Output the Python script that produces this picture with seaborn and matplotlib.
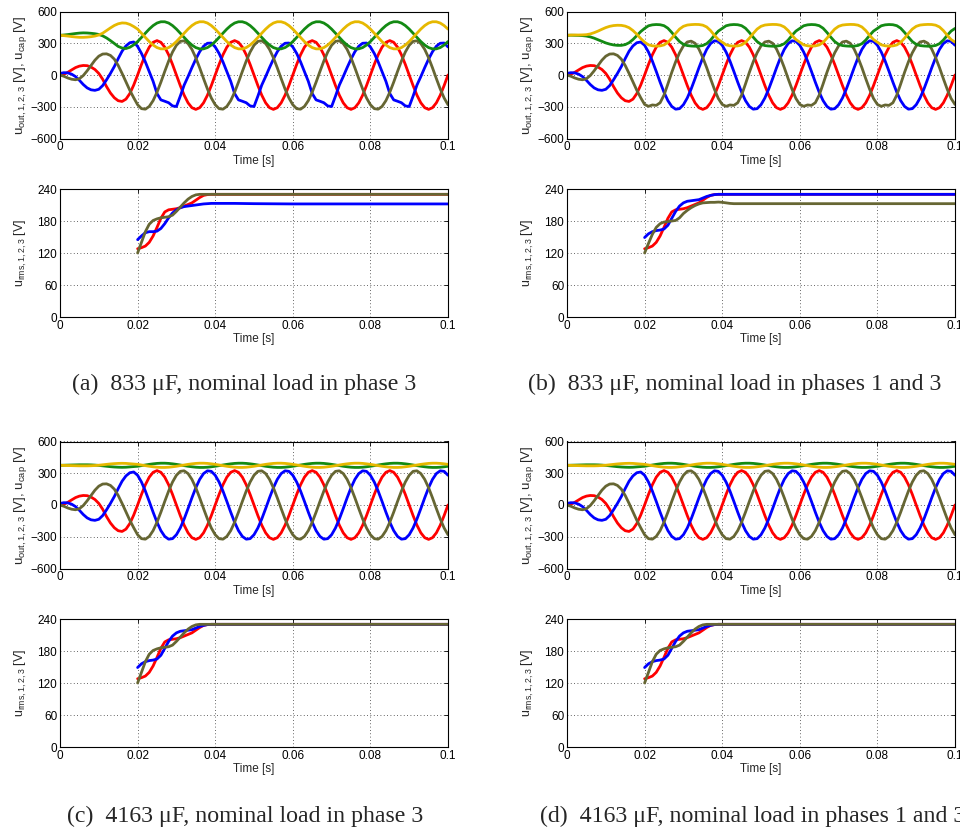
import matplotlib
matplotlib.use("Agg")
import numpy as np
import seaborn as sns
import matplotlib.pyplot as plt

# ---------------- data ----------------
time_ms = np.arange(0, 101)            # output voltages sampled every 1 ms
rms_time_ms = list(range(20, 46)) + [50, 60, 70, 80, 90, 100]

red_out = [
    0, 8, 25, 48, 70, 84, 90, 88, 75, 52, 15, -40, -110, -170, -215, -243, -250, -228, -175, -95,
    0, 100, 191, 263, 309, 325, 309, 263, 191, 100, 0, -100, -191, -263, -309, -325, -309, -263, -191, -100,
    0, 100, 191, 263, 309, 325, 309, 263, 191, 100, 0, -100, -191, -263, -309, -325, -309, -263, -191, -100,
    0, 100, 191, 263, 309, 325, 309, 263, 191, 100, 0, -100, -191, -263, -309, -325, -309, -263, -191, -100,
    0, 100, 191, 263, 309, 325, 309, 263, 191, 100, 0, -100, -191, -263, -309, -325, -309, -263, -191, -100,
    0]

blue_out = [
    15, 22, 20, 8, -15, -50, -90, -122, -140, -145, -135, -100, -45, 15, 80, 155, 225, 275, 305, 312,
    281, 217, 132, 34, -68, -163, -242, -297, -323, -318, -281, -217, -132, -34, 68, 163, 242, 297, 323, 318,
    281, 217, 132, 34, -68, -163, -242, -297, -323, -318, -281, -217, -132, -34, 68, 163, 242, 297, 323, 318,
    281, 217, 132, 34, -68, -163, -242, -297, -323, -318, -281, -217, -132, -34, 68, 163, 242, 297, 323, 318,
    281, 217, 132, 34, -68, -163, -242, -297, -323, -318, -281, -217, -132, -34, 68, 163, 242, 297, 323, 318,
    281]

blue_out_a = [
    15, 22, 20, 8, -15, -50, -90, -122, -140, -145, -135, -100, -45, 15, 80, 155, 225, 275, 305, 312,
    270, 204, 124, 32, -60, -175, -235, -248, -262, -292, -298, -200, -95, -15, 70, 150, 220, 272, 300, 302,
    265, 204, 124, 32, -60, -175, -235, -248, -262, -292, -298, -200, -95, -15, 70, 150, 220, 272, 300, 302,
    265, 204, 124, 32, -60, -175, -235, -248, -262, -292, -298, -200, -95, -15, 70, 150, 220, 272, 300, 302,
    265, 204, 124, 32, -60, -175, -235, -248, -262, -292, -298, -200, -95, -15, 70, 150, 220, 272, 300, 302,
    265]

olive_out = [
    0, -12, -28, -40, -45, -35, -5, 40, 90, 140, 178, 198, 200, 185, 150, 90, 15, -65, -145, -215,
    -281, -318, -323, -297, -242, -163, -68, 34, 132, 217, 281, 318, 323, 297, 242, 163, 68, -34, -132, -217,
    -281, -318, -323, -297, -242, -163, -68, 34, 132, 217, 281, 318, 323, 297, 242, 163, 68, -34, -132, -217,
    -281, -318, -323, -297, -242, -163, -68, 34, 132, 217, 281, 318, 323, 297, 242, 163, 68, -34, -132, -217,
    -281, -318, -323, -297, -242, -163, -68, 34, 132, 217, 281, 318, 323, 297, 242, 163, 68, -34, -132, -217,
    -281]

olive_out_b = [
    0, -12, -28, -40, -45, -35, -5, 40, 90, 140, 178, 198, 200, 185, 150, 90, 15, -65, -145, -215,
    -278, -296, -283, -287, -262, -190, -85, 25, 125, 210, 275, 312, 320, 300, 245, 165, 70, -35, -135, -222,
    -278, -296, -283, -287, -262, -190, -85, 25, 125, 210, 275, 312, 320, 300, 245, 165, 70, -35, -135, -222,
    -278, -296, -283, -287, -262, -190, -85, 25, 125, 210, 275, 312, 320, 300, 245, 165, 70, -35, -135, -222,
    -278, -296, -283, -287, -262, -190, -85, 25, 125, 210, 275, 312, 320, 300, 245, 165, 70, -35, -135, -222,
    -278]

green_cap_a = [
    375, 378, 382, 387, 392, 396, 398, 397, 394, 390, 383, 370, 350, 325, 298, 270, 255, 250, 262, 285,
    316, 355, 395, 434, 467, 491, 503, 503, 491, 467, 434, 395, 355, 316, 283, 259, 247, 247, 259, 283,
    316, 355, 395, 434, 467, 491, 503, 503, 491, 467, 434, 395, 355, 316, 283, 259, 247, 247, 259, 283,
    316, 355, 395, 434, 467, 491, 503, 503, 491, 467, 434, 395, 355, 316, 283, 259, 247, 247, 259, 283,
    316, 355, 395, 434, 467, 491, 503, 503, 491, 467, 434, 395, 355, 316, 283, 259, 247, 247, 259, 283,
    316]

yellow_cap_a = [
    375, 372, 368, 363, 359, 356, 356, 358, 362, 368, 378, 395, 420, 445, 468, 484, 492, 490, 478, 458,
    434, 395, 355, 316, 283, 259, 247, 247, 259, 283, 316, 355, 395, 434, 467, 491, 503, 503, 491, 467,
    434, 395, 355, 316, 283, 259, 247, 247, 259, 283, 316, 355, 395, 434, 467, 491, 503, 503, 491, 467,
    434, 395, 355, 316, 283, 259, 247, 247, 259, 283, 316, 355, 395, 434, 467, 491, 503, 503, 491, 467,
    434, 395, 355, 316, 283, 259, 247, 247, 259, 283, 316, 355, 395, 434, 467, 491, 503, 503, 491, 467,
    434]

green_cap_b = [
    375, 376, 375, 374, 372, 368, 360, 348, 333, 318, 303, 292, 284, 280, 280, 287, 305, 335, 372, 410,
    440, 465, 474, 477, 475, 466, 442, 402, 357, 316, 290, 278, 274, 272, 273, 279, 296, 330, 375, 415,
    440, 465, 474, 477, 475, 466, 442, 402, 357, 316, 290, 278, 274, 272, 273, 279, 296, 330, 375, 415,
    440, 465, 474, 477, 475, 466, 442, 402, 357, 316, 290, 278, 274, 272, 273, 279, 296, 330, 375, 415,
    440, 465, 474, 477, 475, 466, 442, 402, 357, 316, 290, 278, 274, 272, 273, 279, 296, 330, 375, 415,
    440]

yellow_cap_b = [
    375, 377, 378, 378, 379, 381, 388, 400, 415, 432, 448, 460, 467, 470, 469, 462, 447, 420, 385, 345,
    310, 285, 276, 273, 275, 284, 308, 348, 393, 434, 460, 472, 476, 478, 477, 471, 454, 420, 375, 335,
    310, 285, 276, 273, 275, 284, 308, 348, 393, 434, 460, 472, 476, 478, 477, 471, 454, 420, 375, 335,
    310, 285, 276, 273, 275, 284, 308, 348, 393, 434, 460, 472, 476, 478, 477, 471, 454, 420, 375, 335,
    310, 285, 276, 273, 275, 284, 308, 348, 393, 434, 460, 472, 476, 478, 477, 471, 454, 420, 375, 335,
    310]

green_cap_cd = [
    375, 376, 377, 378, 379, 380, 380, 380, 379, 377, 374, 370, 366, 362, 359, 357, 356, 357, 360, 363,
    366, 372, 378, 384, 389, 393, 395, 395, 393, 389, 384, 378, 372, 366, 361, 357, 355, 355, 357, 361,
    366, 372, 378, 384, 389, 393, 395, 395, 393, 389, 384, 378, 372, 366, 361, 357, 355, 355, 357, 361,
    366, 372, 378, 384, 389, 393, 395, 395, 393, 389, 384, 378, 372, 366, 361, 357, 355, 355, 357, 361,
    366, 372, 378, 384, 389, 393, 395, 395, 393, 389, 384, 378, 372, 366, 361, 357, 355, 355, 357, 361,
    366]

yellow_cap_cd = [
    375, 374, 373, 372, 371, 370, 370, 370, 371, 373, 376, 380, 384, 388, 391, 393, 394, 393, 390, 387,
    384, 378, 372, 366, 361, 357, 355, 355, 357, 361, 366, 372, 378, 384, 389, 393, 395, 395, 393, 389,
    384, 378, 372, 366, 361, 357, 355, 355, 357, 361, 366, 372, 378, 384, 389, 393, 395, 395, 393, 389,
    384, 378, 372, 366, 361, 357, 355, 355, 357, 361, 366, 372, 378, 384, 389, 393, 395, 395, 393, 389,
    384, 378, 372, 366, 361, 357, 355, 355, 357, 361, 366, 372, 378, 384, 389, 393, 395, 395, 393, 389,
    384]

red_rms = [128, 130, 133, 140, 152, 168, 185, 197, 201, 202, 203, 205, 208, 211, 214, 219,
           224, 228, 229.5, 230, 230, 230, 230, 230, 230, 230, 230, 230, 230, 230, 230, 230]
blue_rms_a = [145, 152, 158, 160, 160, 161, 166, 175, 186, 195, 201, 205, 207, 208, 209, 210,
              211, 212, 212.5, 213, 213, 213, 213, 213, 213, 213, 212.5, 212, 212, 212, 212, 212]
olive_rms = [120, 140, 160, 174, 181, 184, 186, 187, 188, 191, 198, 206, 214, 221, 226, 229,
             230, 230, 230, 230, 230, 230, 230, 230, 230, 230, 230, 230, 230, 230, 230, 230]
blue_rms = [149, 156, 160, 162, 163, 165, 172, 185, 198, 208, 214, 217, 218, 219, 220, 223,
            226, 228, 229.5, 230, 230, 230, 230, 230, 230, 230, 230, 230, 230, 230, 230, 230]
olive_rms_b = [120, 138, 155, 168, 175, 178, 179, 180, 181, 186, 194, 200, 205, 209, 212, 214,
               214.5, 215, 215, 215.5, 215, 214, 213, 212.5, 212.5, 212.5, 212.5, 212.5, 212.5,
               212.5, 212.5, 212.5]

captions = ["(a)  833 \u03bcF, nominal load in phase 3",
            "(b)  833 \u03bcF, nominal load in phases 1 and 3",
            "(c)  4163 \u03bcF, nominal load in phase 3",
            "(d)  4163 \u03bcF, nominal load in phases 1 and 3"]

out_ticks = [-600, -300, 0, 300, 600]
rms_ticks = [0, 60, 120, 180, 240]
x_ticks = [0, 0.02, 0.04, 0.06, 0.08, 0.1]
x_ticklabels = ["0", "0.02", "0.04", "0.06", "0.08", "0.1"]

# ---------------- style ----------------
sns.set_style("white")
plt.rcParams["font.family"] = ["Liberation Sans", "DejaVu Sans"]
plt.rcParams["mathtext.fontset"] = "custom"
plt.rcParams["mathtext.rm"] = "Liberation Sans"
plt.rcParams["mathtext.it"] = "Liberation Sans:italic"
plt.rcParams["axes.unicode_minus"] = True

c_red, c_blue, c_olive, c_green, c_yellow = "#ff0000", "#0000ff", "#666633", "#138a13", "#e6b800"

fig = plt.figure(figsize=(9.6, 8.33), dpi=100)
W, H = 960.0, 833.0

def frac_box(x0, x1, ytop, ybot):
    return [x0 / W, 1 - ybot / H, (x1 - x0) / W, (ybot - ytop) / H]

col_x = [(60, 448), (567, 955)]
out_rows = [(11.5, 138.5), (441.5, 568.5)]
rms_rows = [(189, 317), (619, 747)]

panels = [
    dict(col=0, row=0, out=[red_out, blue_out_a, olive_out, green_cap_a, yellow_cap_a],
         rms=[red_rms, blue_rms_a, olive_rms], cap=captions[0], cap_xy=(72, 384)),
    dict(col=1, row=0, out=[red_out, blue_out, olive_out_b, green_cap_b, yellow_cap_b],
         rms=[red_rms, blue_rms, olive_rms_b], cap=captions[1], cap_xy=(528, 384)),
    dict(col=0, row=1, out=[red_out, blue_out, olive_out, green_cap_cd, yellow_cap_cd],
         rms=[red_rms, blue_rms, olive_rms], cap=captions[2], cap_xy=(67, 816)),
    dict(col=1, row=1, out=[red_out, blue_out, olive_out, green_cap_cd, yellow_cap_cd],
         rms=[red_rms, blue_rms, olive_rms], cap=captions[3], cap_xy=(540, 816)),
]

def style_axes(ax, yticks):
    ax.set_xlim(0, 0.1)
    ax.set_ylim(yticks[0], yticks[-1])
    ax.set_xticks(x_ticks)
    ax.set_xticklabels(x_ticklabels)
    ax.set_yticks(yticks)
    ax.set_yticklabels([str(v).replace("-", "\u2212") for v in yticks])
    ax.tick_params(direction="in", length=3, width=0.6, top=True, right=True,
                   labelsize=8.5, pad=2, colors="black")
    ax.grid(True, linestyle=(0, (1, 3)), color="black", linewidth=0.6, alpha=0.8)
    for s in ax.spines.values():
        s.set_color("black")
        s.set_linewidth(0.8)
        s.set_visible(True)
    ax.set_xlabel("Time [s]", fontsize=8.5, labelpad=1)

t_out = time_ms / 1000.0
t_rms = np.array(rms_time_ms) / 1000.0
out_colors = [c_red, c_blue, c_olive, c_green, c_yellow]
rms_colors = [c_red, c_blue, c_olive]

for p in panels:
    x0, x1 = col_x[p["col"]]
    ax = fig.add_axes(frac_box(x0, x1, *out_rows[p["row"]]))
    for series, col in zip(p["out"], out_colors):
        sns.lineplot(x=t_out, y=series, color=col, linewidth=2.0, ax=ax,
                     estimator=None, legend=False)
    style_axes(ax, out_ticks)
    ax.set_ylabel(r"$\mathrm{u_{out,1,2,3}}$ [V], $\mathrm{u_{cap}}$ [V]", fontsize=9.5, labelpad=1)

    ax2 = fig.add_axes(frac_box(x0, x1, *rms_rows[p["row"]]))
    for series, col in zip(p["rms"], rms_colors):
        sns.lineplot(x=t_rms, y=series, color=col, linewidth=2.0, ax=ax2,
                     estimator=None, legend=False)
    style_axes(ax2, rms_ticks)
    ax2.set_ylabel(r"$\mathrm{u_{rms,1,2,3}}$ [V]", fontsize=9, labelpad=6)

    cx, cy = p["cap_xy"]
    fig.text(cx / W, 1 - cy / H, p["cap"], family=["Liberation Serif", "DejaVu Serif"],
             fontsize=17.2, ha="left", va="center")

fig.savefig("out.png", dpi=100)
